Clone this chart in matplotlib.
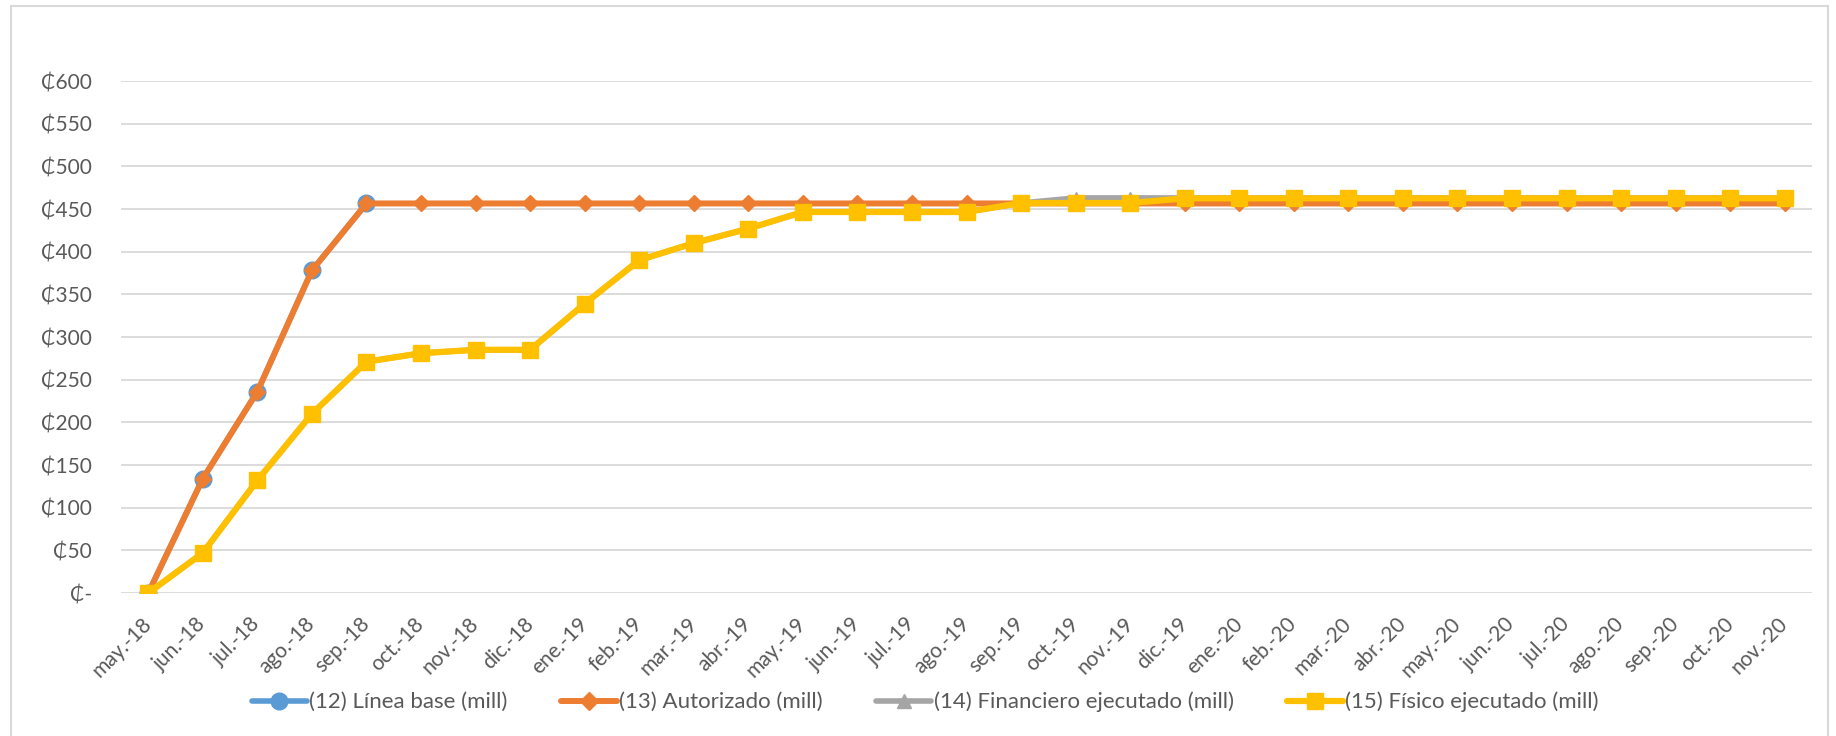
import matplotlib
matplotlib.use("Agg")
import matplotlib.pyplot as plt
from matplotlib.lines import Line2D
import numpy as np

plt.rcParams['font.family'] = ['Lato', 'DejaVu Sans']

months = ["may.-18", "jun.-18", "jul.-18", "ago.-18", "sep.-18", "oct.-18", "nov.-18", "dic.-18",
          "ene.-19", "feb.-19", "mar.-19", "abr.-19", "may.-19", "jun.-19", "jul.-19", "ago.-19",
          "sep.-19", "oct.-19", "nov.-19", "dic.-19", "ene.-20", "feb.-20", "mar.-20", "abr.-20",
          "may.-20", "jun.-20", "jul.-20", "ago.-20", "sep.-20", "oct.-20", "nov.-20"]

linea_base = [0, 134, 236, 378, 456.5]
autorizado = [0, 134, 236, 378, 456.5] + [456.5] * 26
financiero = [0, 47, 132, 210, 271, 281, 285, 285, 339, 390, 410, 427, 446.5, 446.5, 446.5, 446.5,
              457, 463, 463] + [463] * 12
fisico = [0, 47, 132, 210, 271, 281, 285, 285, 339, 390, 410, 427, 446.5, 446.5, 446.5, 446.5,
          457, 457, 457] + [462.5] * 12

yticks = [0, 50, 100, 150, 200, 250, 300, 350, 400, 450, 500, 550, 600]
ytick_labels = ["₵-" if v == 0 else f"₵{v}" for v in yticks]

series_names = ["(12) Línea base (mill)", "(13) Autorizado (mill)",
                "(14) Financiero ejecutado (mill)", "(15) Físico ejecutado (mill)"]

W, H = 1836, 736
fig = plt.figure(figsize=(W / 100, H / 100), dpi=100)
ax = fig.add_axes([121 / W, 1 - 593 / H, (1812 - 121) / W, (593 - 81) / H])

txt = "#595959"
grid = "#D9D9D9"
c_blue, c_orange, c_grey, c_yellow = "#5B9BD5", "#ED7D31", "#A5A5A5", "#FFC000"

x = np.arange(len(months))
ax.plot(x[:len(linea_base)], linea_base, color=c_blue, lw=4.0, marker='o', ms=12,
        solid_capstyle='round', zorder=3)
ax.plot(x, autorizado, color=c_orange, lw=4.3, marker='D', ms=8, zorder=4)
ax.plot(x, financiero, color=c_grey, lw=4.0, marker='^', ms=9, zorder=5)
ax.plot(x, fisico, color=c_yellow, lw=4.5, marker='s', ms=12, zorder=6)

ax.set_xlim(-0.5, len(months) - 0.5)
ax.set_ylim(0, 600)
ax.set_yticks(yticks)
ax.set_yticklabels(ytick_labels)
ax.set_xticks(x)
ax.set_xticklabels(months, rotation=45, ha='right', va='center', rotation_mode='anchor')
ax.tick_params(axis='x', length=0, pad=20, labelsize=15, colors=txt)
ax.tick_params(axis='y', length=0, pad=21, labelsize=15, colors=txt)
ax.grid(axis='y', color=grid, lw=1.3, zorder=0)
ax.set_axisbelow(True)
for s in ax.spines.values():
    s.set_visible(False)

# outer chart frame
fig.add_artist(Line2D([11 / W, 11 / W], [0, 1 - 6 / H], color=grid, lw=1.5, transform=fig.transFigure))
fig.add_artist(Line2D([11 / W, 1828 / W], [1 - 6 / H, 1 - 6 / H], color=grid, lw=1.5, transform=fig.transFigure))
fig.add_artist(Line2D([1828 / W, 1828 / W], [0, 1 - 6 / H], color=grid, lw=1.5, transform=fig.transFigure))

handles = [
    Line2D([], [], color=c_blue, lw=4.0, marker='o', ms=12, solid_capstyle='round'),
    Line2D([], [], color=c_orange, lw=4.3, marker='D', ms=9, solid_capstyle='round'),
    Line2D([], [], color=c_grey, lw=4.0, marker='^', ms=10, solid_capstyle='round'),
    Line2D([], [], color=c_yellow, lw=4.5, marker='s', ms=12, solid_capstyle='round'),
]
leg = fig.legend(handles, series_names, loc='center', bbox_to_anchor=(925 / W, 1 - 702 / H),
                 ncol=4, frameon=False, fontsize=16, handlelength=2.5, handletextpad=0.1,
                 columnspacing=2.4, labelcolor=txt)

fig.savefig("out.png", dpi=100, facecolor="white")
